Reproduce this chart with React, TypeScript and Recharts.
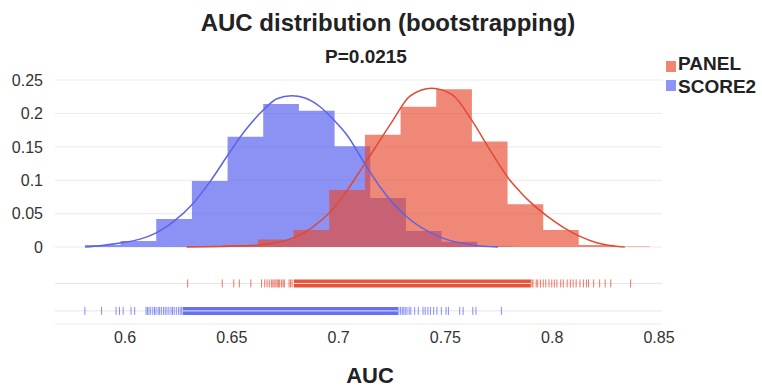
import {
  ComposedChart,
  Area,
  Line,
  Scatter,
  XAxis,
  YAxis,
  CartesianGrid,
  ReferenceArea,
  ReferenceLine,
} from "recharts";

// histogram bins: left edges + share of bootstrap samples per bin
const scoreBinEdges = [0.5812, 0.5979, 0.6146, 0.6313, 0.648, 0.6647, 0.6814, 0.6981, 0.7148, 0.7315, 0.7482, 0.7649, 0.7816];
const scoreBinValues = [0.003, 0.009, 0.042, 0.099, 0.165, 0.214, 0.204, 0.151, 0.0735, 0.024, 0.008, 0.001];

const panelBinEdges = [0.6289, 0.6456, 0.6622, 0.6789, 0.6956, 0.7123, 0.729, 0.7457, 0.7624, 0.7791, 0.7958, 0.8124, 0.8291, 0.8458];
const panelBinValues = [0.001, 0.003, 0.0115, 0.0255, 0.0855, 0.168, 0.21, 0.236, 0.158, 0.064, 0.0255, 0.003, 0.001];

// density curves
const scoreCurveX = [0.5813, 0.5883, 0.5977, 0.607, 0.6144, 0.6234, 0.6312, 0.6398, 0.648, 0.6561, 0.6647, 0.6711, 0.678, 0.6843, 0.6913, 0.6978, 0.7038, 0.7124, 0.7194, 0.732, 0.7475, 0.7629, 0.7746];
const scoreCurveY = [0, 0.002, 0.006, 0.012, 0.021, 0.04, 0.063, 0.098, 0.137, 0.174, 0.205, 0.222, 0.2265, 0.223, 0.21, 0.19, 0.168, 0.124, 0.09, 0.045, 0.015, 0.003, 0];

const panelCurveX = [0.6288, 0.6453, 0.6622, 0.679, 0.6879, 0.6959, 0.7006, 0.7123, 0.7194, 0.7255, 0.7334, 0.7436, 0.7531, 0.7623, 0.7709, 0.7802, 0.7849, 0.7895, 0.7973, 0.805, 0.813, 0.8208, 0.834];
const panelCurveY = [0, 0.001, 0.003, 0.014, 0.03, 0.052, 0.07, 0.125, 0.16, 0.19, 0.226, 0.2376, 0.228, 0.19, 0.145, 0.1, 0.083, 0.068, 0.047, 0.03, 0.016, 0.0065, 0];

// rug marks: single samples and the solid (dense) stretch
const panelRug = [
  0.6293, 0.6455, 0.6509, 0.6535, 0.6589, 0.6639, 0.6654, 0.6665, 0.6675, 0.6685, 0.6692, 0.6698, 0.6706,
  0.6712, 0.6718, 0.6724, 0.6733, 0.674, 0.6746, 0.6768, 0.6775, 0.6782, 0.7905, 0.791, 0.7925, 0.7932,
  0.7945, 0.7958, 0.797, 0.7985, 0.7998, 0.801, 0.8022, 0.804, 0.8052, 0.807, 0.8085, 0.8098, 0.8112,
  0.813, 0.8146, 0.816, 0.817, 0.8194, 0.8222, 0.8248, 0.8274, 0.8367,
];
const panelRugDense = [0.679, 0.79];

const scoreRug = [
  0.5812, 0.589, 0.5958, 0.5974, 0.5991, 0.6028, 0.6045, 0.6098, 0.6105, 0.6112, 0.612, 0.613, 0.6138,
  0.6145, 0.6155, 0.6162, 0.617, 0.618, 0.6188, 0.6196, 0.6205, 0.6215, 0.6222, 0.623, 0.624, 0.625,
  0.6258, 0.6265, 0.7282, 0.729, 0.7298, 0.7305, 0.7312, 0.732, 0.733, 0.7338, 0.7356, 0.7373, 0.7395,
  0.7405, 0.7418, 0.743, 0.7445, 0.746, 0.7481, 0.7503, 0.7514, 0.7567, 0.7583, 0.7628, 0.7643, 0.7762,
];
const scoreRugDense = [0.627, 0.7278];

const xTicks = [0.6, 0.65, 0.7, 0.75, 0.8, 0.85];
const yTicks = [0, 0.05, 0.1, 0.15, 0.2, 0.25];

const RED = "#e84830";
const BLUE = "#5a64f0";
const PANEL_Y = -0.0543;
const SCORE_Y = -0.0954;
const RUG_H = 0.006;

const toSteps = (edges: number[], values: number[]) =>
  edges.map((x, i) => ({ x, y: i < values.length ? values[i] : values[values.length - 1] }));
const toPoints = (xs: number[], ys: number[]) => xs.map((x, i) => ({ x, y: ys[i] }));
const toRug = (xs: number[], y: number) => xs.map((x) => ({ x, y }));

const rugTick = (color: string) => (props: any) => (
  <line
    x1={props.cx}
    x2={props.cx}
    y1={props.cy - 4}
    y2={props.cy + 4}
    stroke={color}
    strokeWidth={1}
    strokeOpacity={0.8}
  />
);

export default function App() {
  const font = "'Liberation Sans', Arial, sans-serif";
  return (
    <div style={{ position: "absolute", left: 0, top: 0, width: 762, height: 388, fontFamily: font }}>
      <ComposedChart
        width={762}
        height={388}
        margin={{ top: 80, right: 100, bottom: 34, left: 0 }}
      >
        <CartesianGrid horizontal vertical={false} stroke="#ebebeb" />
        <XAxis
          dataKey="x"
          type="number"
          domain={[0.5672, 0.8514]}
          ticks={xTicks}
          allowDataOverflow
          axisLine={false}
          tickLine={false}
          tick={{ fill: "#333", fontSize: 16 }}
        />
        <YAxis
          type="number"
          domain={[-0.115, 0.25]}
          ticks={yTicks}
          allowDataOverflow
          width={55}
          axisLine={false}
          tickLine={false}
          tickMargin={6}
          tick={{ fill: "#333", fontSize: 16 }}
        />
        <ReferenceLine y={PANEL_Y} stroke="#e6e6e6" />
        <ReferenceLine y={SCORE_Y} stroke="#e6e6e6" />
        <Area
          data={toSteps(scoreBinEdges, scoreBinValues)}
          dataKey="y"
          type="stepAfter"
          baseValue={0}
          stroke="none"
          fill={BLUE}
          fillOpacity={0.7}
          isAnimationActive={false}
        />
        <Area
          data={toSteps(panelBinEdges, panelBinValues)}
          dataKey="y"
          type="stepAfter"
          baseValue={0}
          stroke="none"
          fill={RED}
          fillOpacity={0.65}
          isAnimationActive={false}
        />
        <Line
          data={toPoints(scoreCurveX, scoreCurveY)}
          dataKey="y"
          type="monotone"
          stroke="#5b63e6"
          strokeWidth={1.5}
          dot={false}
          isAnimationActive={false}
        />
        <Line
          data={toPoints(panelCurveX, panelCurveY)}
          dataKey="y"
          type="monotone"
          stroke="#e04a33"
          strokeWidth={1.5}
          dot={false}
          isAnimationActive={false}
        />
        <ReferenceArea
          x1={panelRugDense[0]}
          x2={panelRugDense[1]}
          y1={PANEL_Y - RUG_H}
          y2={PANEL_Y + RUG_H}
          fill="#ee5038"
          fillOpacity={1}
          stroke="none"
        />
        <ReferenceArea
          x1={scoreRugDense[0]}
          x2={scoreRugDense[1]}
          y1={SCORE_Y - RUG_H}
          y2={SCORE_Y + RUG_H}
          fill="#6570f4"
          fillOpacity={1}
          stroke="none"
        />
        <Scatter
          data={toRug(panelRug, PANEL_Y)}
          dataKey="y"
          shape={rugTick("#ee5038")}
          isAnimationActive={false}
        />
        <Scatter
          data={toRug(scoreRug, SCORE_Y)}
          dataKey="y"
          shape={rugTick("#6570f4")}
          isAnimationActive={false}
        />
      </ComposedChart>
      <svg
        width={762}
        height={388}
        style={{ position: "absolute", left: 0, top: 0, pointerEvents: "none" }}
      >
        <text x={388} y={31} textAnchor="middle" fontSize={24} fontWeight="bold" fill="#222">
          AUC distribution (bootstrapping)
        </text>
        <text x={366} y={63} textAnchor="middle" fontSize={19} fontWeight="bold" fill="#222">
          P=0.0215
        </text>
        <rect x={666} y={61} width={10} height={11} fill="#f08573" />
        <text x={678} y={69.5} fontSize={19} fontWeight="bold" fill="#222">
          PANEL
        </text>
        <rect x={666} y={80} width={10} height={11} fill="#8c95f7" />
        <text x={678} y={92.5} fontSize={19} fontWeight="bold" fill="#222">
          SCORE2
        </text>
        <text x={370} y={383} textAnchor="middle" fontSize={22} fontWeight="bold" fill="#222">
          AUC
        </text>
      </svg>
    </div>
  );
}
